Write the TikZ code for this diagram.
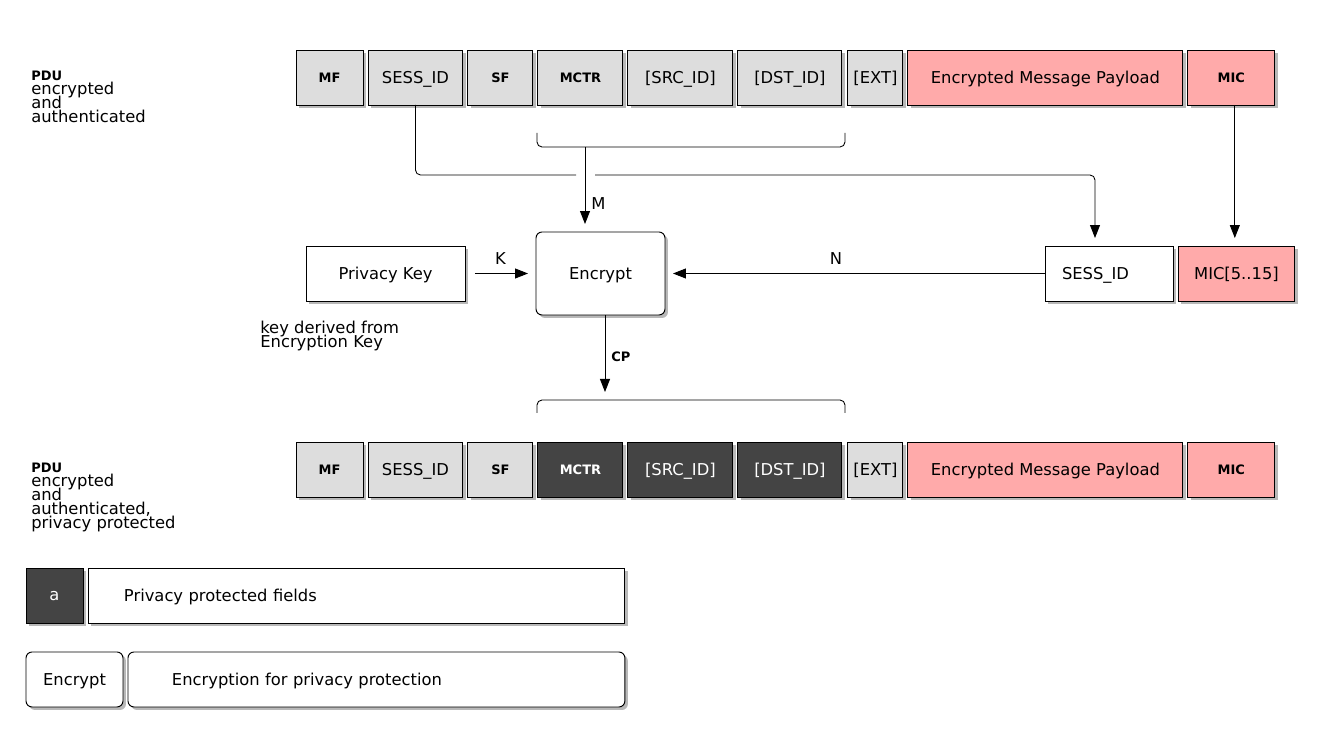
\documentclass[tikz,border=0pt]{standalone}
\usepackage{fontspec}
\setmainfont{DejaVu Sans}
\usetikzlibrary{arrows.meta,positioning,shadows}
\definecolor{FieldGray}{HTML}{DDDDDD}
\definecolor{MicPink}{HTML}{FFAAAA}
\definecolor{PrivDark}{HTML}{444444}
\newcommand{\bigtxt}{\fontsize{9.3}{7.97}\selectfont}
\newcommand{\smalltxt}{\fontsize{7.4}{7.97}\selectfont\bfseries}
\lineskiplimit=-20pt
\tikzset{
  fieldbox/.style={
    draw=black,
    line width=0.55pt,
    fill=white,
    minimum height=1.1cm,
    inner sep=0pt,
    outer sep=0pt,
    font=\bigtxt,
    text depth=0pt,
    drop shadow={shadow xshift=0.06cm,shadow yshift=-0.06cm,fill=black,opacity=0.28}
  },
  grayfield/.style={fieldbox,fill=FieldGray},
  pinkfield/.style={fieldbox,fill=MicPink},
  darkfield/.style={fieldbox,fill=PrivDark,text=white},
  smallfont/.style={font=\smalltxt},
  linkline/.style={line width=0.5pt,rounded corners=0.1cm},
  linkarrow/.style={linkline,-{Triangle[length=0.26cm,width=0.2cm]},shorten >=0.16cm},
  edgelabel/.style={font=\bigtxt,inner sep=0pt},
  notetext/.style={font=\bigtxt,align=left,inner sep=0pt,anchor=north west}
}

\begin{document}
\begin{tikzpicture}[x=0.02cm,y=-0.02cm]
  \useasboundingbox (0,0) rectangle (1320,742);

  % PDU before privacy protection
  \node[notetext] (pdu1) at (31,70.5) {{\smalltxt PDU}\\encrypted\\and\\authenticated};
  \node[grayfield, smallfont, minimum width=1.34cm] (mf1) at (329.5,77.5) {MF};
  \node[grayfield, minimum width=1.9cm, right=0.1cm of mf1] (sess1) {SESS\_ID};
  \node[grayfield, smallfont, minimum width=1.3cm, right=0.1cm of sess1] (sf1) {SF};
  \node[grayfield, smallfont, minimum width=1.7cm, right=0.1cm of sf1] (mctr1) {MCTR};
  \node[grayfield, minimum width=2.1cm, right=0.1cm of mctr1] (src1) {[SRC\_ID]};
  \node[grayfield, minimum width=2.08cm, right=0.1cm of src1] (dst1) {[DST\_ID]};
  \node[grayfield, minimum width=1.1cm, right=0.12cm of dst1] (ext1) {[EXT]};
  \node[pinkfield, minimum width=5.5cm, right=0.1cm of ext1] (pay1) {Encrypted Message Payload};
  \node[pinkfield, smallfont, minimum width=1.74cm, right=0.1cm of pay1] (mic1) {MIC};

  % obfuscation inputs
  \node[fieldbox, minimum width=3.18cm] (pkey) at (385.5,273.5) {Privacy Key};
  \node[notetext] (keynote) at (260,321) {key derived from\\Encryption Key};
  \node[fieldbox, rounded corners=0.12cm, minimum width=2.58cm, minimum height=1.66cm] (enc) at (600.5,273.5) {Encrypt};
  \node[fieldbox, text width=1.88cm, inner xsep=0.34cm, align=left] (sid) at (1109,273.5) {SESS\_ID};
  \node[pinkfield, minimum width=2.34cm, right=0.1cm of sid] (mic5) {MIC[5..15]};

  % PDU after privacy protection
  \node[notetext] (pdu2) at (31,462.5) {{\smalltxt PDU}\\encrypted\\and\\authenticated,\\privacy protected};
  \node[grayfield, smallfont, minimum width=1.34cm] (mf2) at (329.5,469.5) {MF};
  \node[grayfield, minimum width=1.9cm, right=0.1cm of mf2] (sess2) {SESS\_ID};
  \node[grayfield, smallfont, minimum width=1.3cm, right=0.1cm of sess2] (sf2) {SF};
  \node[darkfield, smallfont, minimum width=1.7cm, right=0.1cm of sf2] (mctr2) {MCTR};
  \node[darkfield, minimum width=2.1cm, right=0.1cm of mctr2] (src2) {[SRC\_ID]};
  \node[darkfield, minimum width=2.08cm, right=0.1cm of src2] (dst2) {[DST\_ID]};
  \node[grayfield, minimum width=1.1cm, right=0.12cm of dst2] (ext2) {[EXT]};
  \node[pinkfield, minimum width=5.5cm, right=0.1cm of ext2] (pay2) {Encrypted Message Payload};
  \node[pinkfield, smallfont, minimum width=1.74cm, right=0.1cm of pay2] (mic2) {MIC};

  % legend
  \node[darkfield, minimum width=1.14cm] (keyA) at (54.5,595.5) {a};
  \node[fieldbox, text width=9.3cm, inner xsep=0.72cm, align=left, right=0.1cm of keyA] (keyAtxt) {Privacy protected fields};
  \node[fieldbox, rounded corners=0.12cm, minimum width=1.94cm] (keyEnc) at (74.5,679.5) {Encrypt};
  \node[fieldbox, rounded corners=0.12cm, text width=8.18cm, inner xsep=0.88cm, align=left, right=0.1cm of keyEnc] (keyEnctxt) {Encryption for privacy protection};

  % brackets and crossing points
  \coordinate (brktL) at (537,133);
  \coordinate (brktR) at (845,133);
  \coordinate (mhub) at (585,147);
  \coordinate (gapL) at (576,175);
  \coordinate (gapR) at (595,175);
  \coordinate (lbrktL) at (537,413);
  \coordinate (lbrktR) at (845,413);
  \coordinate (cpin) at (605,400);

  \draw[linkline] (brktL) |- (mhub) -| (brktR);
  \draw[linkarrow] (mhub) -- (mhub |- enc.north) node[edgelabel, pos=0.66, right=0.12cm] {M};
  \draw[linkline] (sess1.south) |- (gapL);
  \draw[linkarrow] (gapR) -| ([xshift=-0.28cm]sid.north);
  \draw[linkarrow] ([xshift=0.07cm]mic1.south) -- ([xshift=0.07cm]mic1.south |- mic5.north);

  \draw[linkarrow, shorten <=0.2cm] (pkey) -- node[edgelabel, above=0.18cm] {K} (enc);
  \draw[linkarrow] (sid) -- node[edgelabel, pos=0.55, above=0.18cm] {N} (enc);
  \draw[linkarrow] (enc.south -| cpin) -- (cpin) node[edgelabel, smallfont, pos=0.49, right=0.12cm] {CP};
  \draw[linkline] (lbrktL) |- (cpin) -| (lbrktR);
\end{tikzpicture}
\end{document}
